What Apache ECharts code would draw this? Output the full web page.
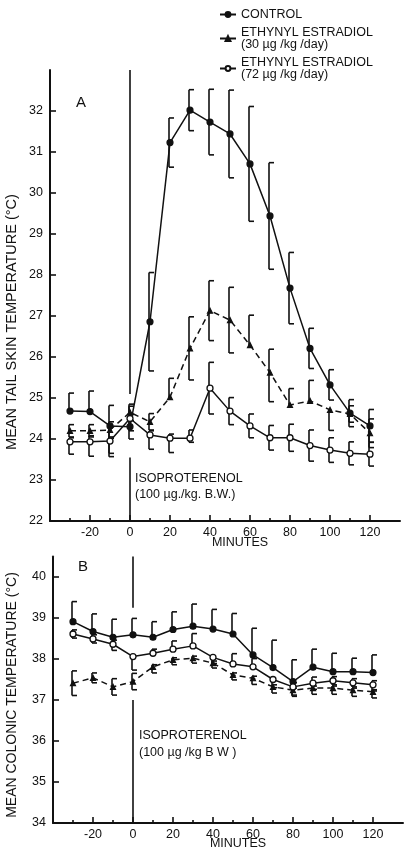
<!DOCTYPE html>
<html><head><meta charset="utf-8">
<script src="https://cdn.jsdelivr.net/npm/echarts@6/dist/echarts.min.js"></script>
<style>html,body{margin:0;padding:0;background:#fff}#c{width:406px;height:851px}</style>
</head><body><div id="c"></div>
<script>
// ---------- DATA ----------
const minutes = [-30,-20,-10,0,10,20,30,40,50,60,70,80,90,100,110,120];
const majorTicks = [-20,0,20,40,60,80,100,120];
const minorTicks = [-30,-10,10,30,50,70,90,110];
const yTicksA = [22,23,24,25,26,27,28,29,30,31,32];
const yTicksB = [34,35,36,37,38,39,40];

// Panel A: mean tail skin temperature
const ctrlA = [24.68,24.67,24.32,24.30,26.86,31.23,32.02,31.73,31.44,30.71,29.44,27.68,26.21,25.32,24.63,24.32];
const ctrlA_up = [0.44,0.5,0.5,0.3,1.2,0.6,0.5,0.8,1.07,1.4,1.3,0.87,0.49,0.37,0.33,0.4];
const ctrlA_dn = [0,0,0.75,0.3,1.2,0.6,0.5,0.8,1.07,1.4,1.3,0.87,0.49,0.37,0.33,0.4];
const ee30A = [24.20,24.20,24.22,24.65,24.42,25.02,26.21,27.13,26.90,26.29,25.62,24.83,24.93,24.71,24.61,24.14];
const ee30A_up = [0.15,0.15,0.2,0.2,0.2,0.46,0.77,0.73,0.8,0.73,0.57,0.4,0.5,0,0.2,0.35];
const ee30A_dn = [0.15,0.15,0.2,0.2,0.2,0,0.77,0.73,0.8,0,0.71,0,0,0.5,0.2,0.35];
const ee72A = [23.93,23.93,23.95,24.50,24.10,24.02,24.02,25.24,24.68,24.32,24.03,24.03,23.84,23.73,23.65,23.63];
const ee72A_up = [0.1,0.15,0.1,0.3,0.1,0.1,0.2,0.63,0.33,0.29,0.3,0.33,0.38,0.3,0.28,0.29];
const ee72A_dn = [0.3,0.35,0.3,0.3,0.35,0.35,0.1,0.63,0.33,0.29,0.3,0.33,0.38,0.3,0.28,0.29];

// Panel B: mean colonic temperature
const ctrlB = [38.91,38.67,38.53,38.59,38.53,38.72,38.80,38.73,38.61,38.10,37.79,37.45,37.80,37.69,37.69,37.67];
const ctrlB_up = [0.49,0.43,0.44,0.4,0.38,0.43,0.54,0.48,0.5,0.65,0.67,0.53,0.44,0.45,0.33,0.43];
const ctrlB_dn = [0,0,0,0,0,0,0,0,0,0,0,0,0,0,0,0];
const ee30B = [37.41,37.54,37.32,37.45,37.81,37.98,38.02,37.90,37.61,37.53,37.32,37.24,37.29,37.29,37.24,37.20];
const ee30B_up = [0.3,0.12,0.2,0.2,0.05,0.05,0.05,0.05,0.05,0.05,0.05,0.05,0.05,0.05,0.05,0.05];
const ee30B_dn = [0.3,0.12,0.2,0.2,0.15,0.12,0.12,0.12,0.12,0.15,0.15,0.15,0.15,0.15,0.15,0.15];
const ee72B = [38.61,38.49,38.36,38.06,38.14,38.24,38.32,38.04,37.88,37.81,37.50,37.32,37.41,37.47,37.42,37.37];
const ee72B_up = [0.1,0.1,0.1,0,0.1,0.2,0.3,0,0.25,0.2,0,0.1,0.15,0.1,0.1,0.1];
const ee72B_dn = [0.1,0.1,0.15,0.33,0,0,0,0.15,0,0,0.2,0.2,0.15,0.1,0.1,0.15];

// injection marker (x = 0) segments
const injA1 = [[0,33],[0,25.1]];
const injA2 = [[0,23.55],[0,22]];
const injB1 = [[0,40.5],[0,39.25]];
const injB2 = [[0,37.0],[0,34]];

const NAME_C = 'CONTROL';
const NAME_30 = 'ETHYNYL ESTRADIOL\n(30 µg /kg /day)';
const NAME_72 = 'ETHYNYL ESTRADIOL\n(72 µg /kg /day)';

// ---------- CHART ----------
const FONT = 'Liberation Sans';
const INK = '#111';
const chart = echarts.init(document.getElementById('c'), null, {renderer:'canvas'});

function pts(vals){ return minutes.map((m,i)=>[m, vals[i]]); }
function errPts(vals, up, dn){ return minutes.map((m,i)=>[m, vals[i], up[i], dn[i]]); }

function renderErr(params, api){
  const x = api.value(0), y = api.value(1), up = api.value(2), dn = api.value(3);
  const p = api.coord([x, y]);
  const t = api.coord([x, y + up]);
  const b = api.coord([x, y - dn]);
  const sx = p[0] - 1, cap = 5;
  const st = {stroke: INK, lineWidth: 1.6, fill: null};
  const ch = [{type:'line', shape:{x1:sx, y1:t[1], x2:sx, y2:b[1]}, style:st}];
  if (up > 0) ch.push({type:'line', shape:{x1:sx, y1:t[1], x2:sx+cap, y2:t[1]}, style:st});
  if (dn > 0) ch.push({type:'line', shape:{x1:sx, y1:b[1], x2:sx+cap, y2:b[1]}, style:st});
  return {type:'group', children: ch};
}

function lineSeries(name, vals, gi, kind){
  const s = {
    name, type:'line', xAxisIndex: gi*2, yAxisIndex: gi, data: pts(vals),
    showAllSymbol: true, animation:false, z: 5,
    lineStyle: {color: INK, width: 1.5, type: kind==='30' ? [6,4] : 'solid'},
    itemStyle: {color: INK, borderColor: INK, borderWidth: 1.2},
    symbol: 'circle', symbolSize: 6
  };
  if (kind==='30'){ s.symbol='triangle'; s.symbolSize=5; }
  if (kind==='72'){ s.itemStyle = {color:'#fff', borderColor: INK, borderWidth: 1.3}; s.symbolSize=6; }
  return s;
}
function errSeries(vals, up, dn, gi){
  return {type:'custom', xAxisIndex: gi*2, yAxisIndex: gi, data: errPts(vals, up, dn),
    encode:{x:0, y:1}, renderItem: renderErr, animation:false, z: 4, silent:true};
}
function segSeries(data, gi){
  return {type:'line', xAxisIndex: gi*2, yAxisIndex: gi, data, symbol:'none', animation:false,
    lineStyle:{color: INK, width: 1.6}, z: 3, silent:true};
}

function xAxes(gi){
  return [
    {gridIndex: gi, type:'value', position:'bottom', min:-40, max:135,
     axisLine:{show:true, onZero:false, lineStyle:{color:INK, width:2}},
     axisTick:{show:true, inside:true, length:6, lineStyle:{color:INK, width:1.6}, customValues: majorTicks},
     axisLabel:{show:true, customValues: majorTicks, color:INK, fontFamily:FONT, fontSize:12.5, margin:5},
     splitLine:{show:false}},
    {gridIndex: gi, type:'value', position:'bottom', min:-40, max:135,
     axisLine:{show:false, onZero:false},
     axisTick:{show:true, inside:true, length:3, lineStyle:{color:INK, width:1.6}, customValues: minorTicks},
     axisLabel:{show:false}, splitLine:{show:false}}
  ];
}
function yAxis(gi, min, max, ticks){
  return {gridIndex: gi, type:'value', position:'left', min, max, interval:1,
    axisLine:{show:true, onZero:false, lineStyle:{color:INK, width:2}},
    axisTick:{show:true, inside:true, length:6, lineStyle:{color:INK, width:1.6}, customValues: ticks},
    axisLabel:{show:true, customValues: ticks, color:INK, fontFamily:FONT, fontSize:12.5, margin:7},
    splitLine:{show:false}};
}

const txt = (x, y, text, extra) => Object.assign({type:'text', x, y, silent:true,
  style: Object.assign({text, fill: INK, font: '12px "' + FONT + '"'}, extra && extra.style || {})}, extra && extra.el || {});

const option = {
  backgroundColor: '#fff',
  animation: false,
  textStyle: {fontFamily: FONT},
  grid: [
    {left: 50, right: 6, top: 70, bottom: 330},
    {left: 53, right: 3, top: 556.5, bottom: 28}
  ],
  xAxis: [...xAxes(0), ...xAxes(1)],
  yAxis: [yAxis(0, 22, 33, yTicksA), yAxis(1, 34, 40.5, yTicksB)],
  legend: {
    data: [NAME_C, NAME_30, NAME_72], orient:'vertical', left: 214, top: 3,
    itemWidth: 16, itemHeight: 6, itemGap: 5, selectedMode:false,
    textStyle:{color: INK, fontFamily: FONT, fontSize: 12.5, lineHeight: 12}
  },
  series: [
    segSeries(injA1, 0), segSeries(injA2, 0), segSeries(injB1, 1), segSeries(injB2, 1),
    errSeries(ctrlA, ctrlA_up, ctrlA_dn, 0),
    errSeries(ee30A, ee30A_up, ee30A_dn, 0),
    errSeries(ee72A, ee72A_up, ee72A_dn, 0),
    errSeries(ctrlB, ctrlB_up, ctrlB_dn, 1),
    errSeries(ee30B, ee30B_up, ee30B_dn, 1),
    errSeries(ee72B, ee72B_up, ee72B_dn, 1),
    lineSeries(NAME_C, ctrlA, 0, 'c'),
    lineSeries(NAME_30, ee30A, 0, '30'),
    lineSeries(NAME_72, ee72A, 0, '72'),
    lineSeries(NAME_C, ctrlB, 1, 'c'),
    lineSeries(NAME_30, ee30B, 1, '30'),
    lineSeries(NAME_72, ee72B, 1, '72')
  ],
  graphic: [
    txt(76, 95, 'A', {style:{font:'15px "'+FONT+'"'}}),
    txt(78, 559, 'B', {style:{font:'15px "'+FONT+'"'}}),
    txt(135, 472, 'ISOPROTERENOL', {style:{font:'12.5px "'+FONT+'"'}}),
    txt(135, 488, '(100 µg./kg. B.W.)', {style:{font:'12.5px "'+FONT+'"'}}),
    txt(139, 729, 'ISOPROTERENOL', {style:{font:'12.5px "'+FONT+'"'}}),
    txt(139, 746, '(100 µg /kg B W )', {style:{font:'12.5px "'+FONT+'"'}}),
    txt(240, 543, 'MINUTES', {style:{font:'12.5px "'+FONT+'"', textAlign:'center', textVerticalAlign:'middle'}}),
    txt(238, 844, 'MINUTES', {style:{font:'12.5px "'+FONT+'"', textAlign:'center', textVerticalAlign:'middle'}}),
    txt(12, 322, 'MEAN TAIL SKIN TEMPERATURE (°C)', {style:{font:'14.5px "'+FONT+'"', textAlign:'center', textVerticalAlign:'middle'}, el:{rotation: Math.PI/2}}),
    txt(12, 695, 'MEAN COLONIC TEMPERATURE (°C)', {style:{font:'14px "'+FONT+'"', textAlign:'center', textVerticalAlign:'middle'}, el:{rotation: Math.PI/2}})
  ]
};
chart.setOption(option);
</script>
</body></html>
